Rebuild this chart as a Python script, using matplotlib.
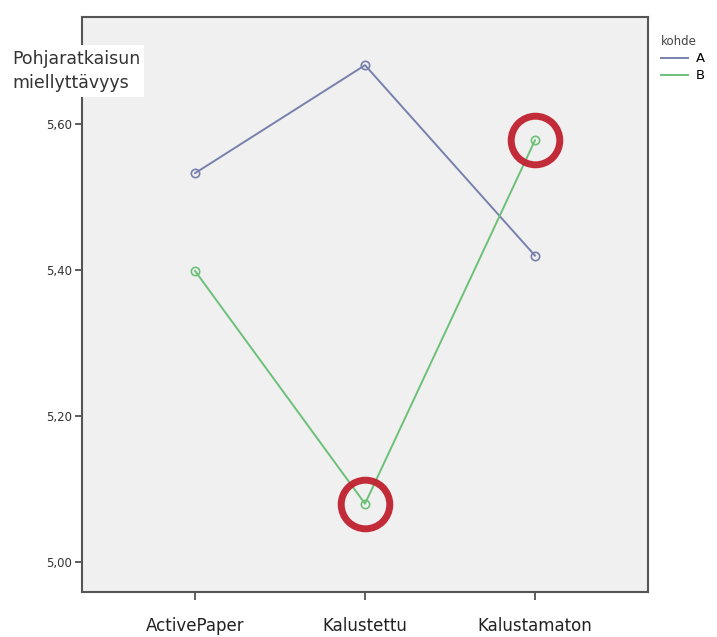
import matplotlib.pyplot as plt
from matplotlib.lines import Line2D

# data
categories = ['ActivePaper', 'Kalustettu', 'Kalustamaton']
series_a = [5.533, 5.681, 5.420]
series_b = [5.399, 5.080, 5.578]
highlight_idx = [1, 2]  # points of B circled in red
y_ticks = [5.00, 5.20, 5.40, 5.60]

COLOR_A = '#7880ad'
COLOR_B = '#6cc078'
RED = '#c0212f'

fig = plt.figure(figsize=(7.17, 6.37), dpi=100)
ax = fig.add_axes([0.1144, 0.0706, 0.7894, 0.9027])
ax.set_facecolor('#f0f0f0')

x = list(range(len(categories)))
ax.plot(x, series_a, color=COLOR_A, lw=1.4, marker='o', ms=6,
        mfc='none', mec=COLOR_A, mew=1.2, zorder=3)
ax.plot(x, series_b, color=COLOR_B, lw=1.4, marker='o', ms=6,
        mfc='none', mec=COLOR_B, mew=1.2, zorder=3)

# red highlight circles
ax.plot([x[i] for i in highlight_idx], [series_b[i] for i in highlight_idx],
        ls='none', marker='o', ms=35, mfc='none', mec=RED, mew=5,
        alpha=0.95, zorder=4)

ax.set_xlim(-0.665, 2.665)
ax.set_ylim(4.959, 5.747)
ax.set_xticks(x)
ax.set_xticklabels(categories, fontsize=12, color='#222222')
ax.set_yticks(y_ticks)
ax.set_yticklabels([f'{v:.2f}'.replace('.', ',') for v in y_ticks],
                   fontsize=8.5, color='#333333')
ax.tick_params(axis='x', length=6, width=1.2, color='#444444', pad=12)
ax.tick_params(axis='y', length=5, width=1.2, color='#444444', pad=2)
for s in ax.spines.values():
    s.set_color('#555555')
    s.set_linewidth(1.5)

# axis title at the top left, on a white box
fig.text(12 / 717, 1 - 71 / 637, 'Pohjaratkaisun\nmiellyttävyys',
         fontsize=12.5, color='#333333', ha='left', va='center',
         linespacing=1.5,
         bbox=dict(facecolor='white', edgecolor='none', pad=3))

# legend
handles = [Line2D([0], [0], color=COLOR_A, lw=1.4),
           Line2D([0], [0], color=COLOR_B, lw=1.4)]
leg = fig.legend(handles, ['A', 'B'], title='kohde', loc='upper left',
                 bbox_to_anchor=(652 / 717, 1 - 26 / 637), frameon=False,
                 fontsize=9.5, title_fontsize=8.5, handlelength=2.0,
                 handletextpad=0.6, labelspacing=0.3, borderpad=0.2,
                 alignment='left')
leg.get_title().set_color('#444444')

fig.savefig('out.png', dpi=100, facecolor='white')
